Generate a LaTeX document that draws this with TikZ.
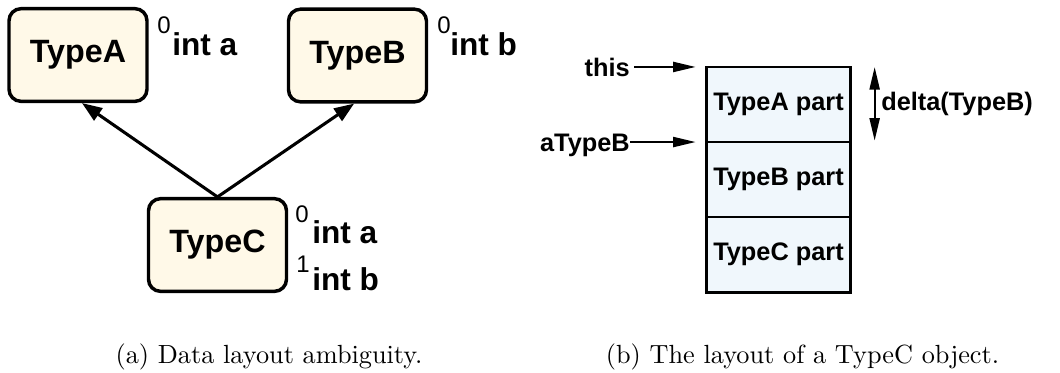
\documentclass[tikz,border=0pt]{standalone}
\usepackage{fontspec}
\newfontfamily\diagfont{Liberation Sans}
\newfontfamily\capfont{lmroman10-regular.otf}
\usetikzlibrary{arrows.meta,positioning}
\definecolor{typefill}{HTML}{FFF9E8}
\definecolor{partfill}{HTML}{F0F7FC}
\begin{document}
\begin{tikzpicture}[x=0.75pt,y=-0.75pt,
  typebox/.style={draw,line width=2.6pt,rounded corners=9pt,fill=typefill,
    minimum width=103.5pt,minimum height=69.5pt,
    font=\diagfont\bfseries\fontsize{24.2}{28}\selectfont},
  member/.style={anchor=base west,inner sep=0pt,
    font=\diagfont\bfseries\fontsize{23.7}{28}\selectfont},
  offset/.style={anchor=base west,inner sep=0pt,
    font=\diagfont\fontsize{18}{22}\selectfont},
  inherit/.style={line width=2.3pt,-{Triangle[length=15pt,width=11pt]}},
  part/.style={draw,line width=2pt,fill=partfill,outer sep=0pt,
    minimum width=108.2pt,minimum height=56.3pt,
    font=\diagfont\bfseries\fontsize{19}{23}\selectfont},
  ptrlabel/.style={inner sep=0pt,font=\diagfont\bfseries\fontsize{19}{23}\selectfont},
  ptr/.style={line width=1.7pt,-{Triangle[length=17pt,width=7.5pt]}},
  caption/.style={anchor=base,inner sep=0pt,font=\capfont\fontsize{19.7}{24}\selectfont}]
\useasboundingbox (0,0) rectangle (1060,372);

% (a) class hierarchy
\node[typebox] (typeA) at (78,55) {TypeA};
\node[typebox] (typeB) at (357.5,55.5) {TypeB};
\node[typebox] (typeC) at (217.5,245) {TypeC};

\node[offset] at (157,33) {0};
\node[member] at (172,55) {int a};
\node[offset] at (437,33) {0};
\node[member] at (450,55) {int b};
\node[offset] at (295,222) {0};
\node[member] at (312,243) {int a};
\node[offset] at (296,272) {1};
\node[member] at (312,290) {int b};

\draw[inherit] (typeC.north) -- ([xshift=3pt]typeA.south);
\draw[inherit] (typeC.north) -- ([xshift=-2.5pt]typeB.south);

% (b) object layout
\node[part] (partA) at (778.5,104.5) {TypeA part};
\node[part,below=0pt of partA] (partB) {TypeB part};
\node[part,below=0pt of partB] (partC) {TypeC part};

\coordinate (thisptr) at ([xshift=-8pt]partA.north west);
\coordinate (bptr) at ([xshift=-8pt]partA.south west);
\node[ptrlabel,anchor=east] (this) at (630,67) {this};
\node[ptrlabel,anchor=east] (aTypeB) at (630,145) {aTypeB};
\draw[ptr] ([xshift=3pt]this.east |- thisptr) -- (thisptr);
\draw[ptr] (aTypeB.east |- bptr) -- (bptr);

\coordinate (dtop) at ([xshift=18pt]partA.north east);
\coordinate (dbot) at ([xshift=18pt,yshift=1pt]partA.south east);
\draw[ptr,{Triangle[length=17pt,width=7.5pt]}-{Triangle[length=17pt,width=7.5pt]}] (dtop) -- (dbot);
\node[ptrlabel,anchor=west] (delta) at (881,104) {delta(TypeB)};

% captions
\node[caption] (capA) at (269,363) {(a) Data layout ambiguity.};
\node[caption] (capB) at (802.5,363) {(b) The layout of a TypeC object.};
\end{tikzpicture}
\end{document}
